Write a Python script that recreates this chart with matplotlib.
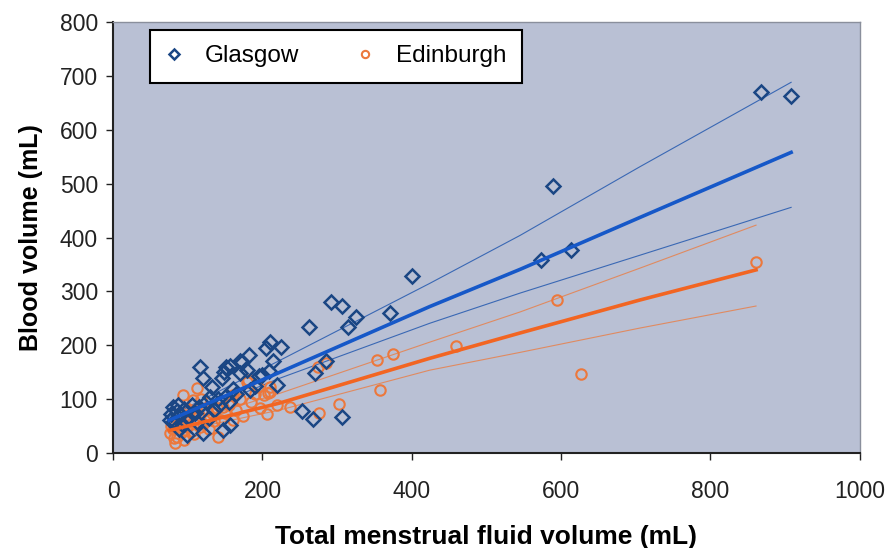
import matplotlib
matplotlib.use("Agg")
import matplotlib.pyplot as plt

plt.rcParams['font.family'] = ['Liberation Sans', 'DejaVu Sans']

# scatter data (mL)
glasgow_x = [868, 908, 589, 573, 613, 400, 371, 292, 306, 325, 314, 262, 285, 270,
             253, 268, 306, 210, 205, 225, 214, 182, 170, 157, 149, 146, 179, 170,
             116, 120, 209, 195, 219, 183, 157, 147, 132, 130, 151, 173, 199, 80,
             87, 76, 99, 120, 107, 85, 90, 95, 100, 105, 110, 115, 125, 135, 140,
             150, 160, 165, 92, 88, 112, 128, 78, 82, 142, 155, 190]
glasgow_y = [670, 662, 495, 358, 377, 328, 260, 281, 273, 252, 234, 234, 171, 148,
             78, 63, 67, 206, 195, 197, 171, 182, 171, 161, 150, 139, 154, 148,
             160, 139, 152, 143, 126, 117, 52, 43, 122, 104, 159, 169, 145, 85,
             89, 61, 33, 37, 74, 78, 70, 82, 65, 90, 75, 85, 95, 80, 100,
             105, 120, 110, 55, 45, 58, 66, 72, 60, 90, 95, 125]

edinburgh_x = [861, 594, 627, 459, 375, 353, 358, 302, 276, 237, 206, 174, 275, 285,
               210, 194, 181, 207, 147, 132, 197, 179, 210, 202, 161, 139, 141, 94,
               112, 83, 76, 99, 116, 130, 107, 90, 80, 85, 88, 92, 95, 100, 105,
               110, 115, 120, 125, 135, 150, 155, 165, 170, 185, 100, 118, 128, 145,
               82, 78, 97, 108, 160, 190, 220]
edinburgh_y = [354, 284, 147, 199, 184, 173, 117, 91, 74, 85, 72, 69, 160, 168,
               122, 122, 135, 111, 85, 74, 83, 132, 113, 108, 108, 83, 30, 108,
               121, 19, 37, 48, 48, 67, 98, 61, 45, 30, 52, 40, 25, 58, 42,
               65, 70, 55, 80, 60, 75, 90, 80, 100, 95, 80, 100, 45, 62,
               28, 50, 70, 35, 62, 110, 90]

# fitted lines and bands, read at a few x positions
glasgow_line_x = [75, 223, 424, 545, 705, 908]
glasgow_fit = [61, 150, 272, 341, 437, 558]
glasgow_upper = [68, 172, 315, 404, 531, 688]
glasgow_lower = [55, 139, 241, 297, 367, 456]

edinburgh_line_x = [75, 223, 424, 545, 705, 861]
edinburgh_fit = [42, 93, 176, 223, 284, 340]
edinburgh_upper = [48, 111, 206, 262, 343, 423]
edinburgh_lower = [37, 80, 154, 187, 232, 273]

blue_pts = '#1a4684'
blue_line = '#1658c8'
orange_pts = '#ec783c'
orange_line = '#f26522'

fig = plt.figure(figsize=(8.91, 5.48), dpi=100)
ax = fig.add_axes([0.127, 0.173, 0.838, 0.787])
ax.set_facecolor('#b9c0d4')

ax.plot(glasgow_line_x, glasgow_upper, color='#3a68b4', lw=0.8)
ax.plot(glasgow_line_x, glasgow_lower, color='#3a68b4', lw=0.8)
ax.plot(edinburgh_line_x, edinburgh_upper, color='#e08a60', lw=0.8)
ax.plot(edinburgh_line_x, edinburgh_lower, color='#e08a60', lw=0.8)

ax.plot(edinburgh_x, edinburgh_y, 'o', ms=7.5, mfc='none', mec=orange_pts, mew=1.5,
        label='Edinburgh', zorder=3)
ax.plot(glasgow_x, glasgow_y, 'D', ms=7, mfc='none', mec=blue_pts, mew=1.8,
        label='Glasgow', zorder=3)

ax.plot(glasgow_line_x, glasgow_fit, color=blue_line, lw=2.6, zorder=4)
ax.plot(edinburgh_line_x, edinburgh_fit, color=orange_line, lw=2.6, zorder=4)

ax.set_xlim(0, 1000)
ax.set_ylim(0, 800)
ax.set_xticks(range(0, 1001, 200))
ax.set_yticks(range(0, 801, 100))
ax.tick_params(labelsize=16.5, direction='out', length=5, width=1, colors='#222222')
ax.tick_params(axis='x', pad=14)
ax.tick_params(axis='y', pad=6)

for s in ['left', 'bottom']:
    ax.spines[s].set_color('#222222')
    ax.spines[s].set_linewidth(1.5)
for s in ['top', 'right']:
    ax.spines[s].set_color('#8a8f9c')
    ax.spines[s].set_linewidth(1)

ax.set_xlabel('Total menstrual fluid volume (mL)', fontsize=19, fontweight='bold',
              labelpad=16)
ax.set_ylabel('Blood volume (mL)', fontsize=18, fontweight='bold', labelpad=12)

h, l = ax.get_legend_handles_labels()
leg = ax.legend([h[1], h[0]], [l[1], l[0]], loc='upper left',
                bbox_to_anchor=(0.05, 0.982), ncol=2, fontsize=17.5,
                fancybox=False, framealpha=1, edgecolor='black',
                handlelength=0.6, handletextpad=0.98, columnspacing=2.4,
                borderpad=0.65, markerscale=0.7, borderaxespad=0)
leg.get_frame().set_linewidth(1.5)

fig.savefig('out.png', dpi=100)
